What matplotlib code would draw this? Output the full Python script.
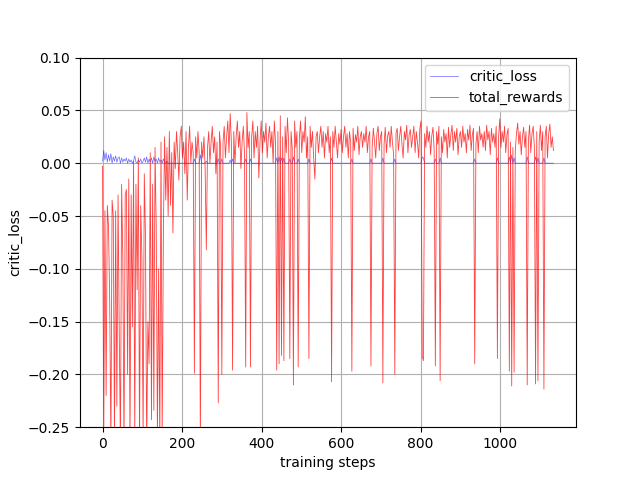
import matplotlib

matplotlib.use("Agg")
import matplotlib.pyplot as plt
import numpy as np

# --- Data (one value every 3 training steps) ---
steps = np.arange(0, 1135, 3)

total_rewards = [
    # 0 - 57
    -0.003, -0.26, -0.045, -0.22, -0.04, -0.06, -0.13, -0.27, -0.035, -0.05,
    -0.26, -0.045, -0.23, -0.03, -0.16, -0.27, -0.02, -0.09, -0.27, -0.03,
    # 60 - 117
    -0.025, -0.2, -0.015, -0.27, -0.03, -0.155, 0.002, -0.26, -0.02, -0.12,
    0.005, -0.27, -0.04, -0.09, -0.26, -0.01, -0.07, -0.27, -0.15, -0.19,
    # 120 - 177
    0.01, -0.243, -0.02, -0.234, 0.015, -0.06, -0.26, -0.1, -0.27, 0.02,
    -0.26, -0.065, 0.025, -0.035, 0.015, -0.05, 0.03, -0.04, 0.01, -0.066,
    # 180 - 237
    0.02, -0.005, 0.03, 0.01, -0.016, 0.025, 0.035, 0.005, 0.02, -0.01,
    0.03, -0.035, 0.015, 0.035, 0.0, 0.02, 0.01, -0.199, 0.025, 0.005,
    # 240 - 297
    0.03, 0.01, -0.27, 0.02, 0.005, 0.025, -0.005, -0.082, 0.015, 0.03,
    0.0, 0.02, 0.035, 0.01, 0.025, -0.01, 0.02, -0.227, 0.03, 0.015,
    # 300 - 357
    -0.2, 0.02, 0.035, 0.005, 0.025, 0.04, 0.01, 0.047, 0.02, -0.196,
    0.03, 0.0, 0.025, 0.04, 0.015, 0.03, -0.005, 0.02, 0.035, 0.01,
    # 360 - 417
    -0.193, 0.048, 0.015, 0.03, -0.193, 0.025, 0.04, 0.005, 0.03, 0.015,
    0.035, -0.014, 0.02, 0.04, 0.01, 0.03, 0.02, 0.038, 0.005, 0.025,
    # 420 - 477
    0.035, 0.015, 0.03, 0.0, 0.04, 0.02, -0.196, 0.03, -0.19, 0.045,
    -0.182, 0.025, -0.187, 0.035, 0.01, 0.043, 0.02, -0.185, 0.03, 0.015,
    # 480 - 537
    -0.21, 0.04, 0.015, 0.03, -0.193, 0.025, 0.04, 0.01, 0.03, 0.02,
    0.044, 0.005, 0.025, -0.185, 0.035, 0.015, 0.03, 0.005, -0.015, 0.025,
    # 540 - 597
    0.03, 0.01, 0.025, 0.035, 0.015, 0.03, 0.005, 0.028, 0.02, 0.035,
    0.01, 0.025, -0.207, 0.03, 0.015, 0.035, 0.02, 0.005, 0.028, 0.018,
    # 600 - 657
    0.032, 0.01, 0.025, 0.035, 0.015, 0.028, 0.005, 0.03, 0.02, -0.197,
    0.033, 0.012, 0.027, 0.02, 0.035, 0.008, 0.025, 0.03, 0.015, 0.028,
    # 660 - 717
    0.02, 0.035, 0.01, 0.025, 0.03, -0.192, 0.015, 0.033, 0.02, 0.005,
    0.028, 0.035, 0.012, 0.025, 0.03, -0.208, 0.018, 0.034, 0.01, 0.026,
    # 720 - 777
    0.03, 0.015, 0.035, 0.02, 0.008, -0.2, 0.028, 0.033, 0.012, 0.025,
    0.035, 0.018, 0.005, 0.03, 0.022, 0.036, 0.01, 0.027, 0.032, 0.015,
    # 780 - 837
    0.025, 0.035, 0.01, 0.03, 0.02, 0.005, 0.033, 0.04, -0.183, -0.187,
    0.028, 0.015, 0.035, 0.02, 0.03, 0.008, 0.026, 0.034, 0.012, -0.192,
    # 840 - 897
    0.03, 0.018, 0.035, -0.206, 0.025, 0.01, 0.032, 0.02, 0.028, 0.005,
    0.034, 0.015, 0.027, 0.036, 0.012, 0.03, 0.02, 0.033, 0.008, 0.025,
    # 900 - 957
    0.03, 0.015, 0.035, 0.02, 0.028, 0.01, 0.032, 0.022, 0.036, 0.012,
    0.027, 0.033, -0.19, 0.018, 0.03, 0.01, 0.035, 0.022, 0.028, 0.015,
    # 960 - 1017
    0.03, 0.012, 0.036, 0.022, 0.03, 0.008, 0.033, 0.02, 0.028, 0.015,
    0.035, -0.185, 0.025, 0.042, 0.015, 0.03, 0.02, 0.035, 0.01, 0.027,
    # 1020 - 1077
    0.033, -0.197, 0.02, -0.211, 0.015, -0.198, 0.012, 0.028, 0.038, 0.018,
    0.03, 0.008, 0.025, 0.034, 0.015, 0.03, -0.21, 0.022, 0.036, 0.01,
    # 1080 - 1134
    0.028, 0.035, 0.015, -0.209, 0.03, -0.206, 0.02, 0.036, 0.012, 0.03,
    -0.214, 0.025, 0.035, 0.005, 0.028, 0.037, 0.015, 0.025, 0.012,
]

critic_loss = [
    # 0 - 57
    0.002, 0.012, 0.003, 0.01, 0.001, 0.008, 0.002, 0.009, 0.0, 0.006,
    0.002, 0.007, 0.001, 0.005, 0.006, 0.0, 0.005, 0.001, 0.004, 0.002,
    # 60 - 117
    0.005, 0.0, 0.004, 0.001, 0.003, 0.0, 0.002, 0.007, 0.001, 0.0,
    0.003, 0.001, 0.004, 0.0, 0.002, 0.005, 0.001, 0.006, 0.0, 0.004,
    # 120 - 177
    0.001, 0.005, 0.0, 0.006, 0.002, 0.004, 0.0, 0.005, 0.001, 0.003,
    0.0, 0.004, 0.001, 0.0, 0.002, 0.0, 0.0, 0.0, 0.0, 0.0,
    # 180 - 237
    0, 0, 0, 0, 0, 0, 0, 0, 0, 0,
    0, 0, 0, 0, 0, 0, 0, 0.004, 0, 0,
    # 240 - 297
    0, 0, 0.008, 0, 0, 0, 0, 0.002, 0, 0,
    0, 0, 0, 0, 0, 0, 0, 0.004, 0, 0,
    # 300 - 357
    0.004, 0, 0, 0, 0, 0, 0, 0.003, 0, 0.004,
    0, 0, 0, 0, 0, 0, 0, 0, 0, 0,
    # 360 - 417
    0.004, 0, 0, 0, 0.004, 0, 0, 0, 0, 0,
    0, 0, 0, 0, 0, 0, 0, 0, 0, 0,
    # 420 - 477
    0, 0, 0, 0, 0, 0, 0.005, 0, 0.006, 0,
    0.005, 0, 0.005, 0, 0, 0, 0, 0.004, 0, 0,
    # 480 - 537
    0.006, 0, 0, 0, 0.004, 0, 0, 0, 0, 0,
    0, 0, 0, 0.004, 0, 0, 0, 0, 0, 0,
    # 540 - 597
    0, 0, 0, 0, 0, 0, 0, 0, 0, 0,
    0, 0, 0.005, 0, 0, 0, 0, 0, 0, 0,
    # 600 - 657
    0, 0, 0, 0, 0, 0, 0, 0, 0, 0.004,
    0, 0, 0, 0, 0, 0, 0, 0, 0, 0,
    # 660 - 717
    0, 0, 0, 0, 0, 0.004, 0, 0, 0, 0,
    0, 0, 0, 0, 0, 0.005, 0, 0, 0, 0,
    # 720 - 777
    0, 0, 0, 0, 0, 0.004, 0, 0, 0, 0,
    0, 0, 0, 0, 0, 0, 0, 0, 0, 0,
    # 780 - 837
    0, 0, 0, 0, 0, 0, 0, 0, 0.006, 0.005,
    0, 0, 0, 0, 0, 0, 0, 0, 0, 0.004,
    # 840 - 897
    0, 0, 0, 0.005, 0, 0, 0, 0, 0, 0,
    0, 0, 0, 0, 0, 0, 0, 0, 0, 0,
    # 900 - 957
    0, 0, 0, 0, 0, 0, 0, 0, 0, 0,
    0, 0, 0.004, 0, 0, 0, 0, 0, 0, 0,
    # 960 - 1017
    0, 0, 0, 0, 0, 0, 0, 0, 0, 0,
    0, 0.005, 0, 0, 0, 0, 0, 0, 0, 0,
    # 1020 - 1077
    0, 0.006, 0, 0.008, 0, 0.005, 0, 0, 0, 0,
    0, 0, 0, 0, 0, 0, 0.006, 0, 0, 0,
    # 1080 - 1134
    0, 0, 0, 0.006, 0, 0.005, 0, 0, 0, 0,
    0.005, 0, 0, 0, 0, 0, 0, 0, 0,
]

# --- Figure ---
fig, ax = plt.subplots(figsize=(6.4, 4.8), dpi=100)

ax.plot(steps, critic_loss, color="blue", linewidth=0.5, alpha=0.6, label="critic_loss")
ax.plot(steps, total_rewards, color="red", linewidth=0.6, alpha=0.75, label="total_rewards")

ax.set_ylim(-0.25, 0.10)
ax.set_xlabel("training steps")
ax.set_ylabel("critic_loss")
ax.grid(True)
ax.legend(loc="upper right")

fig.savefig("out.png")
